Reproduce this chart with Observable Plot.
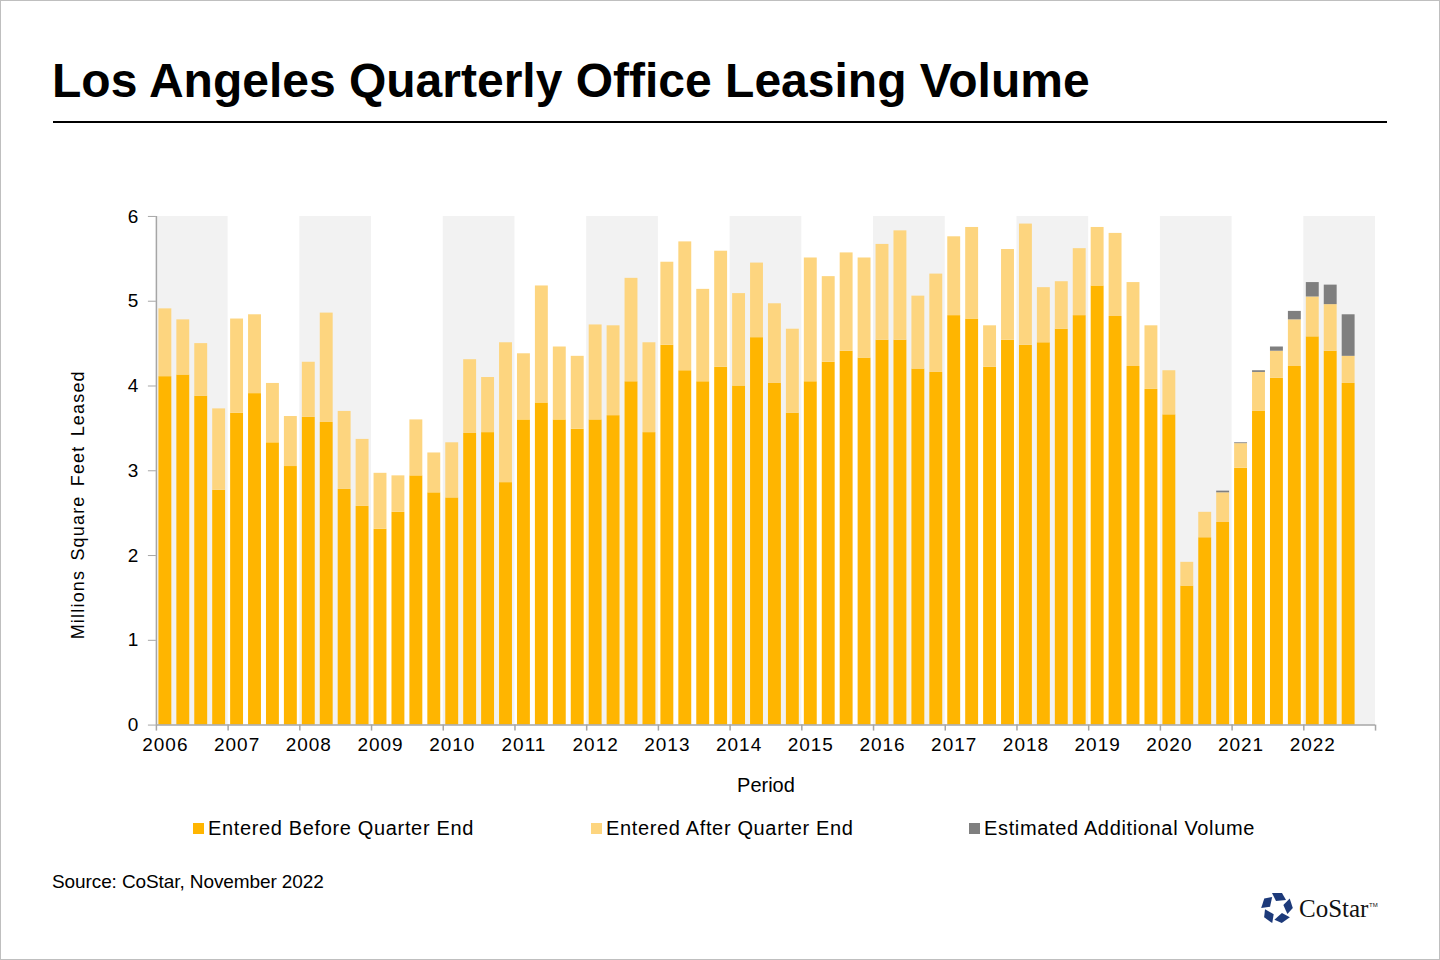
<!DOCTYPE html>
<html>
<head>
<meta charset="utf-8">
<script src="https://cdn.jsdelivr.net/npm/d3@7"></script>
<script src="https://cdn.jsdelivr.net/npm/@observablehq/plot@0.6"></script>
<style>
  html, body { margin: 0; padding: 0; background: #fff; }
  #page { position: relative; width: 1440px; height: 960px; overflow: hidden; font-family: "Liberation Sans", Arial, sans-serif; color: #000; box-sizing: border-box; border: 1px solid #BFBFBF; }
  #title { position: absolute; left: 51px; top: 52px; font-size: 48px; font-weight: bold; white-space: nowrap; letter-spacing: 0; }
  #rule { position: absolute; left: 52px; top: 120px; width: 1334px; height: 2px; background: #000; }
  #chart { position: absolute; left: -1px; top: 149px; }
  #legend { position: absolute; top: 816px; left: 0; width: 1440px; height: 26px; font-size: 20px; }
  .item { position: absolute; top: 0; white-space: nowrap; letter-spacing: 0.65px; }
  .sw { display: inline-block; width: 11px; height: 11px; margin-right: 4px; vertical-align: 1px; }
  #source { position: absolute; left: 51px; top: 870px; font-size: 19px; white-space: nowrap; letter-spacing: -0.1px; }
  #logo { position: absolute; left: 1258px; top: 888px; }
</style>
</head>
<body>
<div id="page">
  <div id="title"></div>
  <div id="rule"></div>
  <div id="chart"></div>
  <div id="legend"></div>
  <div id="source"></div>
  <div id="logo"></div>
</div>
<script>
const titleText = "Los Angeles Quarterly Office Leasing Volume";
const sourceText = "Source: CoStar, November 2022";
const yLabel = "Millions Square Feet Leased";
const xLabel = "Period";
const years = [2006, 2007, 2008, 2009, 2010, 2011, 2012, 2013, 2014, 2015, 2016, 2017, 2018, 2019, 2020, 2021, 2022];
const quarters = ["Q1", "Q2", "Q3", "Q4"];
const yTicks = [0, 1, 2, 3, 4, 5, 6];
const seriesNames = ["Entered Before Quarter End", "Entered After Quarter End", "Estimated Additional Volume"];
const seriesColors = ["#FFB500", "#FDD57F", "#7F7F7F"];

// millions of square feet, 2006 Q1 .. 2022 Q3
const enteredBefore = [
  4.11, 4.13, 3.88, 2.77,
  3.68, 3.91, 3.33, 3.05,
  3.63, 3.57, 2.78, 2.58,
  2.31, 2.51, 2.94, 2.74,
  2.68, 3.44, 3.45, 2.86,
  3.60, 3.80, 3.60, 3.49,
  3.60, 3.65, 4.05, 3.45,
  4.48, 4.18, 4.05, 4.22,
  4.00, 4.57, 4.03, 3.68,
  4.05, 4.28, 4.41, 4.33,
  4.54, 4.54, 4.20, 4.16,
  4.83, 4.79, 4.22, 4.54,
  4.48, 4.51, 4.67, 4.83,
  5.18, 4.82, 4.23, 3.96,
  3.66, 1.64, 2.21, 2.39,
  3.03, 3.70, 4.09, 4.23,
  4.58, 4.41, 4.03
];
const enteredAfter = [
  0.80, 0.65, 0.62, 0.96,
  1.11, 0.93, 0.70, 0.59,
  0.65, 1.29, 0.92, 0.79,
  0.66, 0.43, 0.66, 0.47,
  0.65, 0.87, 0.65, 1.65,
  0.78, 1.38, 0.86, 0.86,
  1.12, 1.06, 1.22, 1.06,
  0.98, 1.52, 1.09, 1.37,
  1.09, 0.88, 0.94, 0.99,
  1.46, 1.01, 1.16, 1.18,
  1.13, 1.29, 0.86, 1.16,
  0.93, 1.08, 0.49, 1.07,
  1.43, 0.65, 0.56, 0.79,
  0.69, 0.98, 0.99, 0.75,
  0.52, 0.28, 0.30, 0.35,
  0.29, 0.46, 0.32, 0.55,
  0.47, 0.55, 0.32
];
const estimatedAdditional = [
  0, 0, 0, 0,
  0, 0, 0, 0,
  0, 0, 0, 0,
  0, 0, 0, 0,
  0, 0, 0, 0,
  0, 0, 0, 0,
  0, 0, 0, 0,
  0, 0, 0, 0,
  0, 0, 0, 0,
  0, 0, 0, 0,
  0, 0, 0, 0,
  0, 0, 0, 0,
  0, 0, 0, 0,
  0, 0, 0, 0,
  0, 0, 0, 0.02,
  0.01, 0.02, 0.05, 0.10,
  0.17, 0.23, 0.49
];

// Build table
const rows = [];
enteredBefore.forEach((b, i) => {
  const a = enteredAfter[i], e = estimatedAdditional[i];
  const period = years[Math.floor(i / 4)] + " " + quarters[i % 4];
  rows.push({i, period, series: seriesNames[0], y1: 0, y2: b});
  rows.push({i, period, series: seriesNames[1], y1: b, y2: b + a});
  if (e > 0) rows.push({i, period, series: seriesNames[2], y1: b + a, y2: b + a + e});
});
const nSlots = years.length * 4;
const shaded = years.filter((y, k) => k % 2 === 0).map(y => ({year: y, k: years.indexOf(y)}));
const barPad = 0.14;

document.getElementById("title").textContent = titleText;
document.getElementById("source").textContent = sourceText;

const chart = Plot.plot({
  width: 1440,
  height: 660,
  marginLeft: 156,
  marginRight: 64,
  marginTop: 66,
  marginBottom: 85,
  style: {fontFamily: "Liberation Sans, Arial, sans-serif", color: "#000", background: "transparent"},
  x: {type: "linear", domain: [0, nSlots], axis: null},
  y: {domain: [0, 6], axis: null},
  color: {domain: seriesNames, range: seriesColors},
  marks: [
    Plot.rect(shaded, {x1: d => d.k * 4, x2: d => d.k * 4 + 4, y1: 0, y2: 6, fill: "#F2F2F2"}),
    Plot.rect(rows, {x1: d => d.i + barPad, x2: d => d.i + 1 - barPad, y1: "y1", y2: "y2", fill: "series"}),
    Plot.ruleX([0], {stroke: "#A6A6A6", strokeWidth: 1.5}),
    Plot.ruleY([0], {stroke: "#A6A6A6", strokeWidth: 1.5}),
    Plot.axisY({ticks: yTicks, tickSize: 8, tickPadding: 10, fontSize: 19, stroke: "#A6A6A6", tickFormat: d => String(d)}),
    Plot.axisX({ticks: d3.range(0, nSlots + 1, 4), tickSize: 6, tickFormat: () => "", stroke: "#A6A6A6", strokeWidth: 1.5}),
    Plot.axisX({ticks: years.map((y, k) => k * 4 + 0.5), tickSize: 0, tickPadding: 12, fontSize: 19,
      tickFormat: v => String(years[Math.round((v - 0.5) / 4)])}),
    Plot.text([xLabel], {frameAnchor: "bottom", dy: 67, fontSize: 20, text: d => d}),
    Plot.text([yLabel], {x: 0, y: 3, dx: -78, dy: 34, rotate: -90, fontSize: 18, text: d => d, textAnchor: "middle"})
  ]
});
// widen text spacing to match the reference rendering
const yearStrings = new Set(years.map(String));
d3.select(chart).selectAll("text").each(function() {
  const t = this.textContent;
  if (t === yLabel) d3.select(this).attr("letter-spacing", "1.2px").attr("word-spacing", "3px");
  else if (yearStrings.has(t)) d3.select(this).attr("letter-spacing", "1px");
});
document.getElementById("chart").appendChild(chart);

// Legend
const legend = document.getElementById("legend");
const lefts = [192, 590, 968];
seriesNames.forEach((s, k) => {
  const div = document.createElement("div");
  div.className = "item";
  div.style.left = lefts[k] + "px";
  const sw = document.createElement("span");
  sw.className = "sw";
  sw.style.background = seriesColors[k];
  div.appendChild(sw);
  div.appendChild(document.createTextNode(s));
  legend.appendChild(div);
});

// Logo
const logo = d3.select("#logo").append("svg").attr("width", 130).attr("height", 40);
const g = logo.append("g").attr("transform", "translate(18,19)");
for (let k = 0; k < 5; k++) {
  g.append("path")
    .attr("d", "M-5,-15 L5,-15 L9,-8 L-1,-7 Z")
    .attr("fill", "#1D3A7A")
    .attr("transform", `rotate(${k * 72})`);
}
logo.append("text").attr("x", 40).attr("y", 28).attr("font-family", "Liberation Serif, Times New Roman, serif")
  .attr("font-size", 25).attr("fill", "#111").text("CoStar");
logo.append("text").attr("x", 110).attr("y", 18).attr("font-family", "Liberation Sans, Arial, sans-serif")
  .attr("font-size", 6).attr("fill", "#111").text("TM");
</script>
</body>
</html>
